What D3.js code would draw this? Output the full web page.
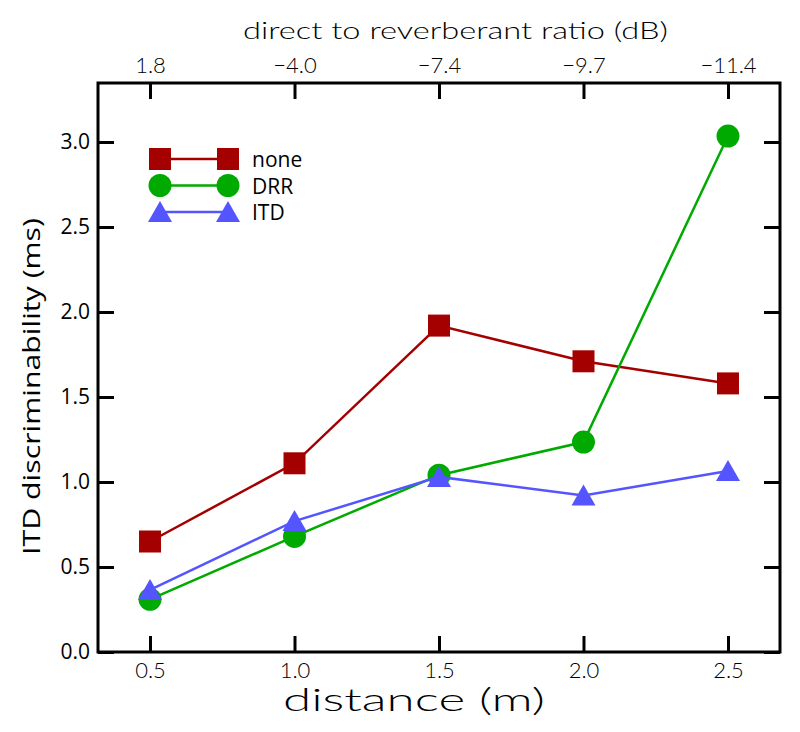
<!DOCTYPE html>
<html><head><meta charset="utf-8">
<script src="https://cdn.jsdelivr.net/npm/d3@7"></script>
<style>body{margin:0;background:#fff}</style>
</head><body>
<script>
const distances = [0.5, 1.0, 1.5, 2.0, 2.5];
const drrLabels = ["1.8", "\u22124.0", "\u22127.4", "\u22129.7", "\u221211.4"];
const noneVals = [0.65, 1.11, 1.92, 1.71, 1.58];
const drrVals = [0.31, 0.68, 1.04, 1.235, 3.035];
const itdVals = [0.365, 0.77, 1.03, 0.92, 1.065];
const yTicks = [0.0, 0.5, 1.0, 1.5, 2.0, 2.5, 3.0];
const seriesNames = ["none", "DRR", "ITD"];
const seriesColors = ["#a50000", "#00aa00", "#5555ff"];
const seriesShapes = ["square", "circle", "triangle"];

const W = 800, H = 732;
const L = 98, R = 780, T = 83, B = 652;
const svg = d3.select("body").append("svg").attr("width", W).attr("height", H);
const x = d3.scaleLinear().domain([0.32, 2.68]).range([L, R]);
const y = d3.scaleLinear().domain([0, 3.347]).range([B, T]);
const thin = "Lato, 'Liberation Sans', sans-serif";
const sans = "'Open Sans', sans-serif";

const tl = 16;
const gB = svg.append("g").attr("transform", `translate(0,${B})`)
  .call(d3.axisBottom(x).tickValues(distances).tickFormat(d3.format(".1f")).tickSize(-tl).tickPadding(10));
const gT = svg.append("g").attr("transform", `translate(0,${T})`)
  .call(d3.axisTop(x).tickValues(distances).tickFormat((d, i) => drrLabels[i]).tickSize(-tl).tickPadding(10));
const gL = svg.append("g").attr("transform", `translate(${L},0)`)
  .call(d3.axisLeft(y).tickValues(yTicks).tickFormat(d3.format(".1f")).tickSize(-tl).tickPadding(8));
const gR = svg.append("g").attr("transform", `translate(${R},0)`)
  .call(d3.axisRight(y).tickValues(yTicks).tickFormat("").tickSize(-tl));
[gB, gT, gL, gR].forEach(g => {
  g.attr("font-size", null).attr("font-family", null);
  g.select(".domain").remove();
  g.selectAll(".tick line").attr("stroke", "#000").attr("stroke-width", 3);
});
gB.selectAll("text").style("font-family", thin).style("font-weight", 300).style("font-size", "22px").attr("fill", "#000");
gT.selectAll("text").style("font-family", thin).style("font-weight", 300).style("font-size", "22px").attr("fill", "#000");
gL.selectAll("text").style("font-family", sans).style("font-size", "21px").attr("fill", "#000");

svg.append("rect").attr("x", L).attr("y", T).attr("width", R - L).attr("height", B - T)
  .attr("fill", "none").attr("stroke", "#000").attr("stroke-width", 3);

// titles
svg.append("text").attr("x", 283).attr("y", 711)
  .attr("textLength", 262).attr("lengthAdjust", "spacingAndGlyphs")
  .style("font-family", thin).style("font-weight", 300).style("font-size", "31px").text("distance (m)");
svg.append("text").attr("x", 243).attr("y", 39)
  .attr("textLength", 425).attr("lengthAdjust", "spacingAndGlyphs")
  .style("font-family", thin).style("font-weight", 300).style("font-size", "24px").text("direct to reverberant ratio (dB)");
svg.append("text").attr("transform", `translate(40,555) rotate(-90)`)
  .attr("textLength", 337).attr("lengthAdjust", "spacingAndGlyphs")
  .style("font-family", sans).style("font-size", "23px").text("ITD discriminability (ms)");

function marker(g, shape, color, cx, cy) {
  if (shape === "square") g.append("rect").attr("x", cx - 11).attr("y", cy - 11).attr("width", 22).attr("height", 22).attr("fill", color);
  else if (shape === "circle") g.append("circle").attr("cx", cx).attr("cy", cy).attr("r", 11.5).attr("fill", color);
  else g.append("path").attr("d", `M${cx},${cy - 11}L${cx + 12},${cy + 10}L${cx - 12},${cy + 10}Z`).attr("fill", color);
}

const allVals = [noneVals, drrVals, itdVals];
const line = d3.line().x((d, i) => x(distances[i])).y(d => y(d));
allVals.forEach((vals, s) => {
  const g = svg.append("g");
  g.append("path").attr("d", line(vals)).attr("fill", "none").attr("stroke", seriesColors[s]).attr("stroke-width", 2.5);
  vals.forEach((v, i) => marker(g, seriesShapes[s], seriesColors[s], x(distances[i]), y(v)));
});

// legend
seriesNames.forEach((n, s) => {
  const ly = 159 + s * 26.5;
  const g = svg.append("g");
  g.append("line").attr("x1", 160).attr("x2", 228).attr("y1", ly).attr("y2", ly).attr("stroke", seriesColors[s]).attr("stroke-width", 2.5);
  marker(g, seriesShapes[s], seriesColors[s], 160, ly);
  marker(g, seriesShapes[s], seriesColors[s], 228, ly);
  g.append("text").attr("x", 252).attr("y", ly + 8).style("font-family", sans).style("font-size", "21px").text(n);
});
</script>
</body></html>
